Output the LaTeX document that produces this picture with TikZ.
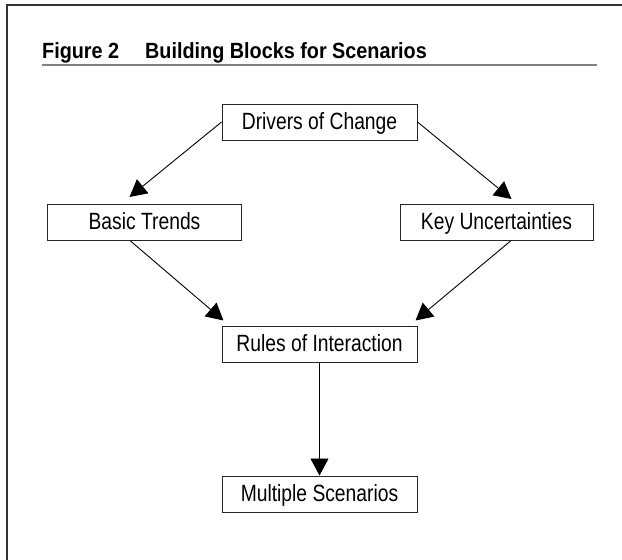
\documentclass[tikz,border=0pt]{standalone}
\usepackage{fontspec}
\setmainfont{Liberation Sans}[FakeStretch=0.82]
\newfontfamily\titlefont{Liberation Sans}[FakeStretch=0.9]
\usetikzlibrary{arrows.meta,calc}
\begin{document}
\begin{tikzpicture}[x=1pt,y=-1pt,
    block/.style={draw=black!85, line width=1pt, minimum width=195pt, minimum height=36pt, inner sep=0pt, text height=18pt, text depth=3.4pt, font=\fontsize{23.5}{26}\selectfont},
    heading/.style={anchor=base west, inner sep=0pt, font=\titlefont\fontsize{22}{25}\selectfont\bfseries},
    link/.style={-{Triangle[length=17pt,width=18pt]}, line width=0.9pt}]
          \useasboundingbox (0,0) rectangle (622,560);
          \draw[black!80, line width=1.5pt] (7,560) -- (7,5) -- (622,5);
          \node[heading] (fig) at (42,58) {Figure 2};
          \node[heading] (title) at (145,58) {Building Blocks for Scenarios};
          \draw[black!50, line width=2pt] (42,65) -- (597,65);

          \node[block] (drivers) at (319.5,122) {Drivers of Change};
          \node[block, minimum width=194pt] (trends) at (144.5,222.5) {Basic Trends};
          \node[block, minimum width=193pt] (uncert) at (496.5,222.5) {Key Uncertainties};
          \node[block] (rules) at (319.5,344) {Rules of Interaction};
          \node[block] (multi) at (319.5,494) {Multiple Scenarios};

          \draw[link] (drivers.west) -- ($(trends.north)+(-15,-7)$);
          \draw[link] (drivers.east) -- ($(uncert.north)+(15,-5)$);
          \draw[link] ($(trends.south)+(-14,0)$) -- ($(rules.north west)+(2,-5)$);
          \draw[link] ($(uncert.south)+(14,0)$) -- ($(rules.north east)+(-2,-5)$);
          \draw[link] (rules) -- (multi);
        \end{tikzpicture}
\end{document}
